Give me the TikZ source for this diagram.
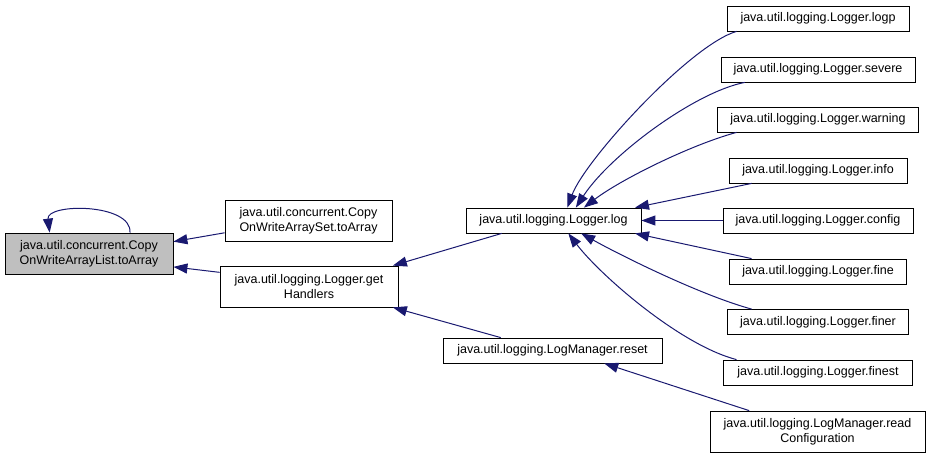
\documentclass[tikz,border=0pt]{standalone}
\usepackage{fontspec}
\setmainfont{Liberation Sans}
\usepackage{xcolor}
\usetikzlibrary{arrows.meta}

\definecolor{edgeblue}{HTML}{191970}
\definecolor{focusgray}{HTML}{BFBFBF}

\tikzset{
  method/.style={draw=black, line width=0.8pt, fill=white, inner sep=0pt, align=center,
    minimum height=25pt, font=\fontsize{12.5}{15}\selectfont},
  twoline/.style={minimum height=41pt},
  callarrow/.style={draw=edgeblue, line width=1pt, {Triangle[length=14pt,width=10pt]}-}
}

\begin{document}
\begin{tikzpicture}[x=1pt, y=-1pt]
\useasboundingbox (0,0) rectangle (931,458);

% left part of the graph
\node[method, twoline, fill=focusgray, minimum width=168pt] (toArrayList) at (89,253.5) {java.util.concurrent.Copy\\OnWriteArrayList.toArray};
\node[method, twoline, minimum width=167pt] (toArraySet) at (308.5,221) {java.util.concurrent.Copy\\OnWriteArraySet.toArray};
\node[method, twoline, minimum width=178pt] (getHandlers) at (309,286.5) {java.util.logging.Logger.get\\Handlers};
\node[method, minimum width=175pt] (log) at (553.5,220.5) {java.util.logging.Logger.log};
\node[method, minimum width=219pt] (reset) at (552.5,350.5) {java.util.logging.LogManager.reset};

% callers of Logger.log
\foreach \name/\w/\y in {logp/182/18.5, severe/194/69.5, warning/201/119.5, info/178/170.5,
    config/190/220.5, fine/177/271.5, finer/181/322, finest/189/372.5} {
  \node[method, minimum width=\w pt] (\name) at (818,\y) {java.util.logging.Logger.\name};
}
\node[method, twoline, minimum width=215pt] (readConf) at (817.5,431.5) {java.util.logging.LogManager.read\\Configuration};

% self call
\draw[callarrow] (toArrayList.152) .. controls (46,203) and (132,203) .. (toArrayList.27);

\draw[callarrow] (toArrayList.8) -- (toArraySet.188);
\draw[callarrow] (toArrayList.-9) -- (getHandlers.171);
\draw[callarrow] (getHandlers.14) -- (log.194);
\draw[callarrow] (getHandlers.-14) -- (reset.166);
\draw[callarrow] (reset.-14) -- (readConf.163);

% edges into Logger.log
\draw[callarrow] (log.43) .. controls (585,160) and (690,45) .. (logp.189);
\draw[callarrow] (log.30) .. controls (610,155) and (695,92) .. (severe.190);
\draw[callarrow] (log.23) .. controls (620,180) and (690,145) .. (warning.189);
\draw[callarrow] (log.9) -- (info.191);
\draw[callarrow] (log) -- (config);
\draw[callarrow] (log.-9) -- (fine.169);
\draw[callarrow] (log.-25) .. controls (620,255) and (700,295) .. (finer.169);
\draw[callarrow] (log.-41) .. controls (600,275) and (680,345) .. (finest.171);
\end{tikzpicture}
\end{document}
